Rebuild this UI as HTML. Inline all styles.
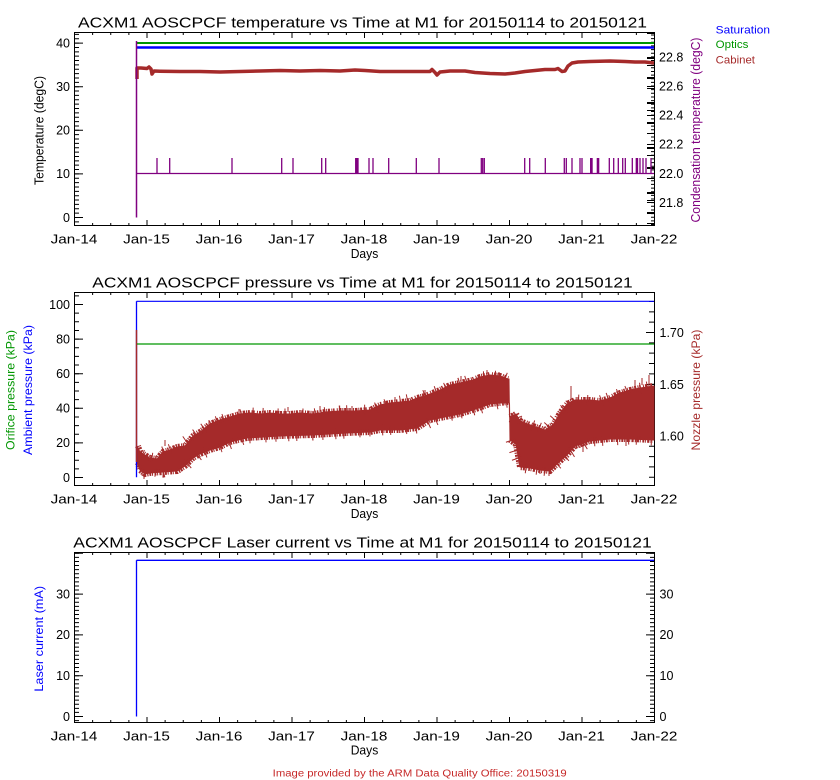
<!DOCTYPE html>
<html><head><meta charset="utf-8"><style>
html,body{margin:0;padding:0;background:#fff;}
svg{display:block;font-family:"Liberation Sans",sans-serif;}
</style></head><body>
<svg width="840" height="780" viewBox="0 0 840 780" xmlns="http://www.w3.org/2000/svg">
<rect x="0" y="0" width="840" height="780" fill="#fff"/>

<!-- ================= TOP PANEL ================= -->
<g fill="none" stroke="#000">
<rect x="74.5" y="32.5" width="580" height="193" stroke-width="1"/>
<line x1="74" y1="224.5" x2="655" y2="224.5" stroke-width="3" stroke-dasharray="1 17.125"/>
<line x1="74" y1="223" x2="655" y2="223" stroke-width="6" stroke-dasharray="1 71.5"/>
<line x1="74" y1="33.5" x2="655" y2="33.5" stroke-width="3" stroke-dasharray="1 17.125"/>
<line x1="74" y1="35" x2="655" y2="35" stroke-width="6" stroke-dasharray="1 71.5"/>
<line x1="76.5" y1="218" x2="76.5" y2="32" stroke-width="5" stroke-dasharray="1 3.36"/>
<line x1="76.5" y1="217" x2="76.5" y2="226" stroke-width="5" stroke-dasharray="1 3.36"/>
<line x1="78.5" y1="218" x2="78.5" y2="32" stroke-width="9" stroke-dasharray="1 42.6"/>
<line x1="653" y1="174" x2="653" y2="32" stroke-width="4" stroke-dasharray="1 2.645"/>
<line x1="653" y1="173" x2="653" y2="226" stroke-width="4" stroke-dasharray="1 2.645"/>
<line x1="651" y1="32" x2="651" y2="226" stroke-width="8" stroke-dasharray="2 9 1 13 2 6 1 11"/>
<path d="M647,57.5H655M647,86.5H655M647,115.5H655M647,144.5H655M647,173.5H655M647,202.5H655" stroke-width="1"/>
</g>

<!-- top data -->
<line x1="137" y1="43" x2="654" y2="43" stroke="#009600" stroke-width="2"/>
<line x1="137" y1="47.5" x2="654" y2="47.5" stroke="#0000ff" stroke-width="2.5"/>
<path d="M137,79 L137,68 L141,68 L147,68.5 L149,67 L151,69 L152,74 L154,71 L160,71.2 L180,71.5 L200,71.5 L220,72 L240,71.5 L260,71 L280,70.5 L300,71 L320,70.5 L340,71 L355,70 L365,70.5 L380,71.5 L400,71.5 L420,71.5 L430,71.5 L432,69.5 L435,72.5 L437,75 L440,72 L450,71 L465,71 L475,72.5 L490,73.5 L505,74 L515,73 L525,71.5 L535,70.5 L545,69.5 L555,69.5 L558,68.5 L562,71.5 L565,71 L568,66 L572,63 L578,62 L590,61.5 L610,61 L625,61.5 L635,62 L645,62 L654,63" fill="none" stroke="#a52a2a" stroke-width="3.5" stroke-linejoin="round"/>
<path d="M140,71 L654,63" fill="none" stroke="#a52a2a" stroke-width="0" />
<g stroke="#800080" fill="none">
<line x1="136.5" y1="41" x2="136.5" y2="217.5" stroke-width="1.5"/>
<line x1="136.5" y1="173.5" x2="654" y2="173.5" stroke-width="1.3"/>
<path stroke-width="1.3" d="M157,158V173.5M169.7,158V173.5M232,158V173.5M281.7,158V173.5M293,158V173.5M321.7,158V173.5M325.7,158V173.5M355.7,158V173.5M357,158V173.5M358,158V173.5M369,158V173.5M373,158V173.5M388.7,158V173.5M416.3,158V173.5M439,158V173.5M481.3,158V173.5M482.7,158V173.5M484.3,158V173.5M524.7,158V173.5M529.7,158V173.5M545.3,158V173.5M564.3,158V173.5M566.3,158V173.5M572,158V173.5M580,158V173.5M582,158V173.5M609.3,158V173.5M613.7,158V173.5M618.3,158V173.5M622.7,158V173.5M625.3,158V173.5M632.3,158V173.5M636.3,158V173.5M637.5,158V173.5M640,158V173.5M643,158V173.5M646,158V173.5M651,158V173.5"/>
</g>
<rect x="590" y="158" width="2.7" height="15.5" fill="#800080"/>
<rect x="596.7" y="158" width="2.6" height="15.5" fill="#800080"/>

<text x="78" y="27.3" font-size="15" textLength="569" lengthAdjust="spacingAndGlyphs">ACXM1 AOSCPCF temperature vs Time at M1 for 20150114 to 20150121</text>
<g font-size="12.5" text-anchor="end">
<text x="70" y="47.4">40</text>
<text x="70" y="91">30</text>
<text x="70" y="134.6">20</text>
<text x="70" y="178.2">10</text>
<text x="70" y="221.8">0</text>
</g>
<g font-size="12.5">
<text x="659" y="61.3">22.8</text>
<text x="659" y="90.3">22.6</text>
<text x="659" y="119.3">22.4</text>
<text x="659" y="148.3">22.2</text>
<text x="659" y="177.8">22.0</text>
<text x="659" y="206.8">21.8</text>
</g>
<g font-size="12.5" text-anchor="middle">
<text x="74" y="243.3" textLength="46.7" lengthAdjust="spacingAndGlyphs">Jan-14</text>
<text x="146.5" y="243.3" textLength="46.7" lengthAdjust="spacingAndGlyphs">Jan-15</text>
<text x="219" y="243.3" textLength="46.7" lengthAdjust="spacingAndGlyphs">Jan-16</text>
<text x="291.5" y="243.3" textLength="46.7" lengthAdjust="spacingAndGlyphs">Jan-17</text>
<text x="364" y="243.3" textLength="46.7" lengthAdjust="spacingAndGlyphs">Jan-18</text>
<text x="436.5" y="243.3" textLength="46.7" lengthAdjust="spacingAndGlyphs">Jan-19</text>
<text x="509" y="243.3" textLength="46.7" lengthAdjust="spacingAndGlyphs">Jan-20</text>
<text x="581.5" y="243.3" textLength="46.7" lengthAdjust="spacingAndGlyphs">Jan-21</text>
<text x="654" y="243.3" textLength="46.7" lengthAdjust="spacingAndGlyphs">Jan-22</text>
<text x="364.5" y="257.8" textLength="27.6" lengthAdjust="spacingAndGlyphs">Days</text>
</g>
<text transform="translate(43.5,130.5) rotate(-90)" font-size="12.5" text-anchor="middle" textLength="109" lengthAdjust="spacingAndGlyphs">Temperature (degC)</text>
<text transform="translate(700,130) rotate(-90)" font-size="12.5" fill="#800080" text-anchor="middle" textLength="185" lengthAdjust="spacingAndGlyphs">Condensation temperature (degC)</text>
<g font-size="11">
<text x="715.7" y="33.3" fill="#0000ff" textLength="54.3" lengthAdjust="spacingAndGlyphs">Saturation</text>
<text x="715.7" y="48.2" fill="#009600" textLength="32.7" lengthAdjust="spacingAndGlyphs">Optics</text>
<text x="715.7" y="63.3" fill="#a52a2a" textLength="39.3" lengthAdjust="spacingAndGlyphs">Cabinet</text>
</g>

<!-- ================= MIDDLE PANEL ================= -->
<g fill="none" stroke="#000">
<rect x="74.5" y="292.5" width="580" height="193" stroke-width="1"/>
<line x1="74" y1="484.5" x2="655" y2="484.5" stroke-width="3" stroke-dasharray="1 17.125"/>
<line x1="74" y1="483" x2="655" y2="483" stroke-width="6" stroke-dasharray="1 71.5"/>
<line x1="74" y1="293.5" x2="655" y2="293.5" stroke-width="3" stroke-dasharray="1 17.125"/>
<line x1="74" y1="295" x2="655" y2="295" stroke-width="6" stroke-dasharray="1 71.5"/>
<line x1="76.5" y1="478" x2="76.5" y2="292" stroke-width="5" stroke-dasharray="1 7.65"/>
<line x1="76.5" y1="477" x2="76.5" y2="486" stroke-width="5" stroke-dasharray="1 7.65"/>
<line x1="78.5" y1="478" x2="78.5" y2="292" stroke-width="9" stroke-dasharray="1 33.6"/>
<line x1="652" y1="333" x2="652" y2="292" stroke-width="6" stroke-dasharray="1 9.34"/>
<line x1="652" y1="332" x2="652" y2="486" stroke-width="6" stroke-dasharray="1 9.34"/>
<path d="M646,332.5H655M646,384.5H655M646,436.5H655" stroke-width="1"/>
</g>

<!-- middle data -->
<polygon fill="#a52a2a" stroke="#a52a2a" stroke-width="1" stroke-linejoin="round" points="137,446 140,452 145,455 150,458 157,459 163,452 170,450 177,447 185,446 193,436 200,432 210,424 220,420 230,417 240,414 250,413 260,414 270,413 280,414 290,414 300,413 313,414 325,412 340,411 355,411 370,410 380,405 390,403 400,402 410,401 417,398 425,396 440,390 450,385 460,383 473,380 480,377 490,375 500,376 508,379 509,379 509.5,417 516,414 520,421 533,426 545,430 553,425 560,413 567,404 575,400 590,400 600,401 610,398 620,393 630,390 640,388 654,386 654,440 630,439 610,439 590,441 575,446 567,455 558,463 550,471 540,470 530,468 520,467 516,444 510,440 509.5,403 500,403 490,404 473,410 460,414 440,418 430,420 417,428 400,430 380,430 370,432 347,433 313,435 280,436 247,438 230,442 220,447 210,450 200,454 193,458 185,466 177,471 163,472 150,473 145,474 140,470 137,463"/>
<!-- jagged edges -->
<g fill="none" stroke="#a52a2a">
<polyline stroke-width="6" stroke-dasharray="1 0.8 2 1.4 1 0.7 1.5 2.2 1 1.1 2.5 0.9" points="138,446 140,452 145,455 150,458 157,459 163,452 170,450 177,447 185,446 193,436 200,432 210,424 220,420 230,417 240,414 250,413 260,414 270,413 280,414 290,414 300,413 313,414 325,412 340,411 355,411 370,410 380,405 390,403 400,402 410,401 417,398 425,396 440,390 450,385 460,383 473,380 480,377 490,375 500,376 508,379"/>
<polyline stroke-width="6" stroke-dasharray="1 0.8 2 1.4 1 0.7 1.5 2.2 1 1.1 2.5 0.9" points="510,417 516,414 520,421 533,426 545,430 553,425 560,413 567,404 575,400 590,400 600,401 610,398 620,393 630,390 640,388 653,386"/>
<polyline stroke-width="6" stroke-dasharray="1.2 1 2 0.8 1 1.6 1.8 0.7 1 1.3 2.2 1.1" points="138,463 140,470 145,474 150,473 163,472 177,471 185,466 193,458 200,454 210,450 220,447 230,442 247,438 280,436 313,435 347,433 370,432 380,430 400,430 417,428 430,420 440,418 460,414 473,410 490,404 500,403 508,402"/>
<polyline stroke-width="6" stroke-dasharray="1.2 1 2 0.8 1 1.6 1.8 0.7 1 1.3 2.2 1.1" points="510,440 516,444 520,467 530,468 540,470 550,471 558,463 567,455 575,446 590,441 610,439 630,439 653,440"/>
<polyline stroke-width="11" stroke-dasharray="1 9 1 14 1 6 1 17 1 11" points="142,455 150,458 157,459 163,452 177,447 193,436 210,424 230,417 250,413 280,414 313,414 340,411 370,410 390,403 417,398 440,390 460,383 480,377 500,376 508,379"/>
<polyline stroke-width="11" stroke-dasharray="1 12 1 7 1 15 1 9" points="142,470 163,472 185,466 200,454 220,447 247,438 280,436 313,435 347,433 380,430 417,428 440,418 473,410 500,403 508,402"/>
<polyline stroke-width="11" stroke-dasharray="1 8 1 13 1 6 1 10" points="511,417 520,421 545,430 560,413 575,400 600,401 630,390 653,386"/>
<polyline stroke-width="11" stroke-dasharray="1 10 1 7 1 14" points="511,440 520,467 550,471 567,455 590,441 630,439 653,440"/>
</g>
<path stroke="#a52a2a" stroke-width="1" fill="none" d="M144,474V479M165,440V446M209,420V425M239,409V414M288,407V412M320,406V412M352,406V411M395,397V402M425,390V396M461,376V382M487,370V375M499,372V376M540,470V474M549,470V476M571,386V400M583,430V452M605,400V405M635,380V388M642,378V385M649,375V386M626,439V446M580,441V448"/>
<line x1="136.5" y1="477.3" x2="136.5" y2="301.3" stroke="#0000ff" stroke-width="1.3"/>
<line x1="136.5" y1="301.3" x2="654" y2="301.3" stroke="#0000ff" stroke-width="1.2"/>
<line x1="136.5" y1="330" x2="136.5" y2="462" stroke="#a52a2a" stroke-width="1.5"/>
<line x1="137" y1="344" x2="654" y2="344" stroke="#009600" stroke-width="1.3"/>

<text x="92.3" y="287.5" font-size="15" textLength="540.4" lengthAdjust="spacingAndGlyphs">ACXM1 AOSCPCF pressure vs Time at M1 for 20150114 to 20150121</text>
<g font-size="12.5" text-anchor="end">
<text x="70" y="308.8">100</text>
<text x="70" y="343.4">80</text>
<text x="70" y="378">60</text>
<text x="70" y="412.6">40</text>
<text x="70" y="447.2">20</text>
<text x="70" y="481.8">0</text>
</g>
<g font-size="12.5">
<text x="659.5" y="337">1.70</text>
<text x="659.5" y="388.8">1.65</text>
<text x="659.5" y="440.6">1.60</text>
</g>
<g font-size="12.5" text-anchor="middle">
<text x="74" y="503.3" textLength="46.7" lengthAdjust="spacingAndGlyphs">Jan-14</text>
<text x="146.5" y="503.3" textLength="46.7" lengthAdjust="spacingAndGlyphs">Jan-15</text>
<text x="219" y="503.3" textLength="46.7" lengthAdjust="spacingAndGlyphs">Jan-16</text>
<text x="291.5" y="503.3" textLength="46.7" lengthAdjust="spacingAndGlyphs">Jan-17</text>
<text x="364" y="503.3" textLength="46.7" lengthAdjust="spacingAndGlyphs">Jan-18</text>
<text x="436.5" y="503.3" textLength="46.7" lengthAdjust="spacingAndGlyphs">Jan-19</text>
<text x="509" y="503.3" textLength="46.7" lengthAdjust="spacingAndGlyphs">Jan-20</text>
<text x="581.5" y="503.3" textLength="46.7" lengthAdjust="spacingAndGlyphs">Jan-21</text>
<text x="654" y="503.3" textLength="46.7" lengthAdjust="spacingAndGlyphs">Jan-22</text>
<text x="364.5" y="517.8" textLength="27.6" lengthAdjust="spacingAndGlyphs">Days</text>
</g>
<text transform="translate(14.5,390) rotate(-90)" font-size="12" fill="#009600" text-anchor="middle" textLength="120" lengthAdjust="spacingAndGlyphs">Orifice pressure (kPa)</text>
<text transform="translate(31.8,390) rotate(-90)" font-size="12" fill="#0000ff" text-anchor="middle" textLength="130" lengthAdjust="spacingAndGlyphs">Ambient pressure (kPa)</text>
<text transform="translate(700,390) rotate(-90)" font-size="12" fill="#a52a2a" text-anchor="middle" textLength="121" lengthAdjust="spacingAndGlyphs">Nozzle pressure (kPa)</text>

<!-- ================= BOTTOM PANEL ================= -->
<g fill="none" stroke="#000">
<rect x="74.5" y="552.5" width="580" height="170" stroke-width="1"/>
<line x1="74" y1="721.5" x2="655" y2="721.5" stroke-width="3" stroke-dasharray="1 17.125"/>
<line x1="74" y1="720" x2="655" y2="720" stroke-width="6" stroke-dasharray="1 71.5"/>
<line x1="74" y1="553.5" x2="655" y2="553.5" stroke-width="3" stroke-dasharray="1 17.125"/>
<line x1="74" y1="555" x2="655" y2="555" stroke-width="6" stroke-dasharray="1 71.5"/>
<line x1="76.5" y1="717" x2="76.5" y2="552" stroke-width="5" stroke-dasharray="1 3.08"/>
<line x1="76.5" y1="716" x2="76.5" y2="723" stroke-width="5" stroke-dasharray="1 3.08"/>
<line x1="78.5" y1="717" x2="78.5" y2="552" stroke-width="9" stroke-dasharray="1 39.8"/>
<line x1="652.5" y1="717" x2="652.5" y2="552" stroke-width="5" stroke-dasharray="1 3.08"/>
<line x1="652.5" y1="716" x2="652.5" y2="723" stroke-width="5" stroke-dasharray="1 3.08"/>
<line x1="650.5" y1="717" x2="650.5" y2="552" stroke-width="9" stroke-dasharray="1 39.8"/>
</g>
<line x1="136.5" y1="716.5" x2="136.5" y2="560.3" stroke="#0000ff" stroke-width="1.3"/>
<line x1="136.5" y1="560.3" x2="654" y2="560.3" stroke="#0000ff" stroke-width="1.3"/>

<text x="73.3" y="547.3" font-size="15" textLength="578.4" lengthAdjust="spacingAndGlyphs">ACXM1 AOSCPCF Laser current vs Time at M1 for 20150114 to 20150121</text>
<g font-size="12.5" text-anchor="end">
<text x="70" y="598.4">30</text>
<text x="70" y="639.2">20</text>
<text x="70" y="680">10</text>
<text x="70" y="720.8">0</text>
</g>
<g font-size="12.5">
<text x="659.5" y="598.4">30</text>
<text x="659.5" y="639.2">20</text>
<text x="659.5" y="680">10</text>
<text x="659.5" y="720.8">0</text>
</g>
<g font-size="12.5" text-anchor="middle">
<text x="74" y="740.7" textLength="46.7" lengthAdjust="spacingAndGlyphs">Jan-14</text>
<text x="146.5" y="740.7" textLength="46.7" lengthAdjust="spacingAndGlyphs">Jan-15</text>
<text x="219" y="740.7" textLength="46.7" lengthAdjust="spacingAndGlyphs">Jan-16</text>
<text x="291.5" y="740.7" textLength="46.7" lengthAdjust="spacingAndGlyphs">Jan-17</text>
<text x="364" y="740.7" textLength="46.7" lengthAdjust="spacingAndGlyphs">Jan-18</text>
<text x="436.5" y="740.7" textLength="46.7" lengthAdjust="spacingAndGlyphs">Jan-19</text>
<text x="509" y="740.7" textLength="46.7" lengthAdjust="spacingAndGlyphs">Jan-20</text>
<text x="581.5" y="740.7" textLength="46.7" lengthAdjust="spacingAndGlyphs">Jan-21</text>
<text x="654" y="740.7" textLength="46.7" lengthAdjust="spacingAndGlyphs">Jan-22</text>
<text x="364.5" y="754.5" textLength="27.6" lengthAdjust="spacingAndGlyphs">Days</text>
</g>
<text transform="translate(43,638.8) rotate(-90)" font-size="12" fill="#0000ff" text-anchor="middle" textLength="105.7" lengthAdjust="spacingAndGlyphs">Laser current (mA)</text>

<text x="272.7" y="776.5" font-size="10" fill="#c62828" textLength="294" lengthAdjust="spacingAndGlyphs">Image provided by the ARM Data Quality Office: 20150319</text>
</svg>
</body></html>
